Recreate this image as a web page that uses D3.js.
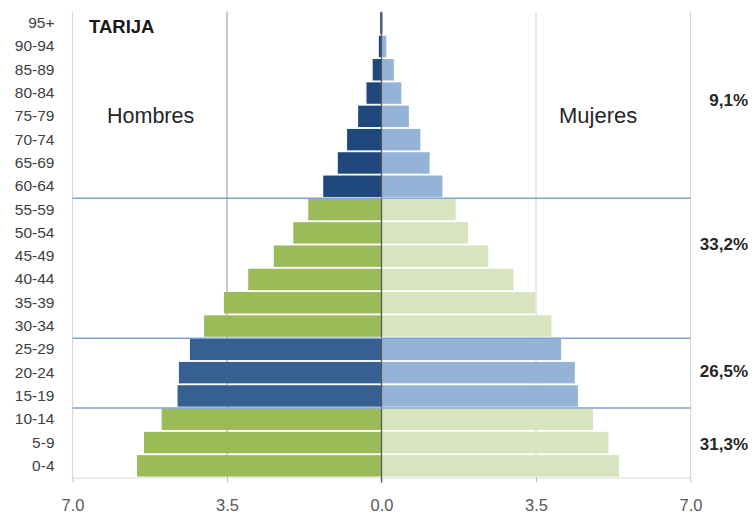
<!DOCTYPE html>
<html>
<head>
<meta charset="utf-8">
<script src="https://cdn.jsdelivr.net/npm/d3@7"></script>
<style>
  body { margin: 0; background: #fff; }
  svg { display: block; font-family: "Liberation Sans", Arial, sans-serif; }
  .cat text { font-size: 15.5px; fill: #404040; }
  .xax text { font-size: 16.5px; fill: #595959; }
</style>
</head>
<body>
<svg></svg>
<script>
const width = 753;
const height = 518;

// grupos de edad, de arriba hacia abajo
var edades = ["95+","90-94","85-89","80-84","75-79","70-74","65-69","60-64",
  "55-59","50-54","45-49","40-44","35-39","30-34",
  "25-29","20-24","15-19","10-14","5-9","0-4"];
var hombres = [0.03,0.06,0.20,0.34,0.53,0.78,0.99,1.32,
  1.66,2.00,2.44,3.02,3.57,4.02,
  4.34,4.59,4.62,4.98,5.38,5.54];
var mujeres = [0.03,0.11,0.28,0.45,0.62,0.88,1.09,1.38,
  1.68,1.96,2.42,2.99,3.48,3.85,
  4.07,4.38,4.45,4.79,5.14,5.38];
// a que bloque pertenece cada grupo de edad
var bloque = ["a","a","a","a","a","a","a","a",
  "b","b","b","b","b","b",
  "c","c","c","d","d","d"];
var porcentajes = ["9,1%","33,2%","26,5%","31,3%"];
var posPorcentaje = [3.8, 10.0, 15.45, 18.55]; // en filas desde arriba
var cortes = ["60-64","30-34","15-19"]; // linea debajo de estos grupos
var ticks = [-7,-3.5,0,3.5,7];

var colH = {a:"#1f497d", b:"#9bbb59", c:"#376092", d:"#9bbb59"};
var colM = {a:"#95b3d7", b:"#d7e4bd", c:"#95b3d7", d:"#d7e4bd"};

var pTop = 11.5, pBottom = 477.5, pLeft = 72.5, pRight = 690.5;

var x = d3.scaleLinear().domain([-7,7]).range([pLeft,pRight]);
var y = d3.scaleBand().domain(edades).range([pTop,pBottom]).paddingInner(0.08).paddingOuter(0.04);
var fila = d3.scaleLinear().domain([0,edades.length]).range([pTop,pBottom]);

var svg = d3.select("svg").attr("width",width).attr("height",height);

// lineas de grilla (detras de las barras)
var grid = [
  {v:-7, c:"#d9d9d9"}, {v:-3.5, c:"#a6a6a6"}, {v:3.5, c:"#d9d9d9"}, {v:7, c:"#d9d9d9"}
];
svg.selectAll("line.grid")
  .data(grid)
  .enter()
  .append("line")
  .attr("class","grid")
  .attr("x1",d=>x(d.v)).attr("x2",d=>x(d.v))
  .attr("y1",pTop).attr("y2",pBottom)
  .attr("stroke",d=>d.c)
  .attr("stroke-width",1.2);

// eje x
var xAxis = d3.axisBottom(x)
  .tickValues(ticks)
  .tickFormat(d=>Math.abs(d).toFixed(1))
  .tickSize(5)
  .tickSizeOuter(0)
  .tickPadding(17);
var gx = svg.append("g")
  .attr("class","xax")
  .attr("transform",`translate(0,${pBottom})`)
  .call(xAxis);
gx.select(".domain").attr("stroke","#d9d9d9").attr("stroke-width",1.2);
gx.selectAll(".tick line").attr("stroke","#bfbfbf");
gx.selectAll("text").attr("font-family","Liberation Sans, Arial, sans-serif");

// barras
svg.selectAll("rect.h")
  .data(hombres)
  .enter()
  .append("rect")
  .attr("class","h")
  .attr("x",d=>x(-d))
  .attr("y",(d,i)=>y(edades[i]))
  .attr("width",d=>x(0)-x(-d))
  .attr("height",y.bandwidth())
  .attr("fill",(d,i)=>colH[bloque[i]]);

svg.selectAll("rect.m")
  .data(mujeres)
  .enter()
  .append("rect")
  .attr("class","m")
  .attr("x",x(0))
  .attr("y",(d,i)=>y(edades[i]))
  .attr("width",d=>x(d)-x(0))
  .attr("height",y.bandwidth())
  .attr("fill",(d,i)=>colM[bloque[i]]);

// linea del cero
svg.append("line")
  .attr("x1",x(0)).attr("x2",x(0))
  .attr("y1",pTop).attr("y2",pBottom+5)
  .attr("stroke","#595959")
  .attr("stroke-width",1.3);

// lineas separadoras de bloques
svg.selectAll("line.corte")
  .data(cortes)
  .enter()
  .append("line")
  .attr("class","corte")
  .attr("x1",pLeft).attr("x2",pRight)
  .attr("y1",d=>y(d)+y.step()*0.98)
  .attr("y2",d=>y(d)+y.step()*0.98)
  .attr("stroke","#7ea2d6")
  .attr("stroke-width",1.5);

// eje de categorias
var gy = svg.append("g")
  .attr("class","cat")
  .attr("transform",`translate(${pLeft},0)`)
  .call(d3.axisLeft(y).tickSize(0).tickPadding(18));
gy.select(".domain").remove();
gy.selectAll("text").attr("font-family","Liberation Sans, Arial, sans-serif");

// textos
svg.append("text")
  .attr("x",89).attr("y",33)
  .attr("font-size",18.5).attr("font-weight","bold")
  .attr("fill","#1a1a1a")
  .text("TARIJA");

svg.append("text")
  .attr("x",107).attr("y",123)
  .attr("font-size",21.5).attr("fill","#262626")
  .text("Hombres");

svg.append("text")
  .attr("x",559).attr("y",123)
  .attr("font-size",22).attr("fill","#262626")
  .text("Mujeres");

svg.selectAll("text.pct")
  .data(porcentajes)
  .enter()
  .append("text")
  .attr("class","pct")
  .attr("x",748)
  .attr("y",(d,i)=>fila(posPorcentaje[i]))
  .attr("dy","0.35em")
  .attr("text-anchor","end")
  .attr("font-size",17).attr("font-weight","bold")
  .attr("fill","#262626")
  .text(d=>d);
</script>
</body>
</html>
